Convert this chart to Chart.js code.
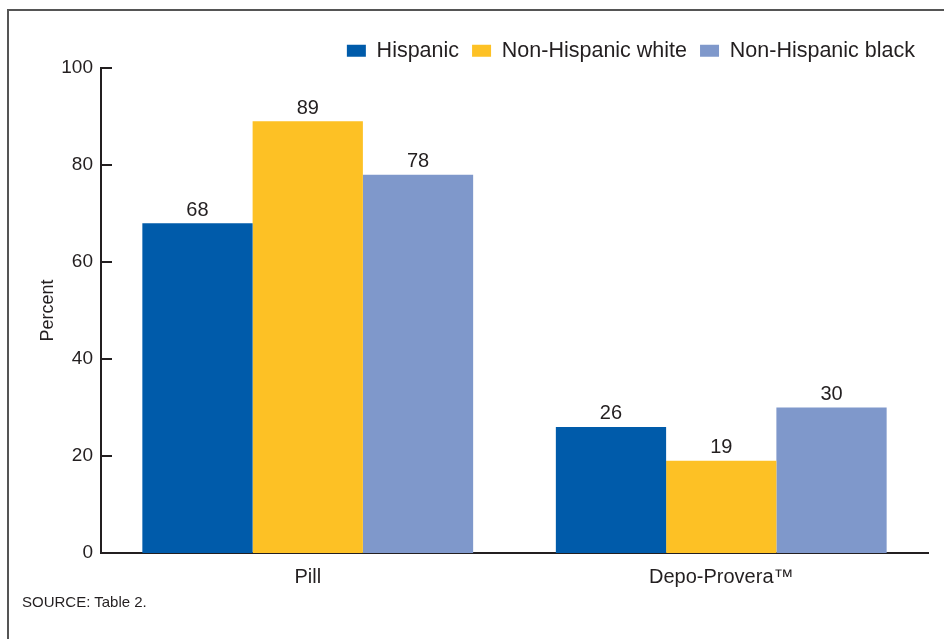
<!DOCTYPE html>
<html>
<head>
<meta charset="utf-8">
<script src="https://cdn.jsdelivr.net/npm/chart.js@4"></script>
<style>
  html, body { margin: 0; padding: 0; background: #fff; }
  #wrap { position: relative; width: 944px; height: 639px; overflow: hidden; }
  #frame { position: absolute; left: 7px; top: 9px; width: 960px; height: 700px;
           border-top: 2px solid #555; border-left: 2px solid #555; }
  #chart { position: absolute; left: 0; top: 0; }
  #source { position: absolute; left: 22px; top: 593px; font: 15px "Liberation Sans", Arial, sans-serif; color: #231f20; }
</style>
</head>
<body>
<div id="wrap">
  <div id="frame"></div>
  <canvas id="chart" width="944" height="639"></canvas>
  <div id="source">SOURCE: Table 2.</div>
</div>
<script>
// Chart data
const categories = ["Pill", "Depo-Provera\u2122"];
const seriesNames = ["Hispanic", "Non-Hispanic white", "Non-Hispanic black"];
const hispanic = [68, 26];
const nhWhite = [89, 19];
const nhBlack = [78, 30];
const yTicks = [0, 20, 40, 60, 80, 100];

const colors = ["#005baa", "#fdc125", "#7f98cb"];
const ink = "#231f20";
const fontFamily = '"Liberation Sans", Arial, sans-serif';

// Value labels above each bar
const valueLabels = {
  id: "valueLabels",
  afterDatasetsDraw(chart) {
    const ctx = chart.ctx;
    ctx.save();
    ctx.font = "20px " + fontFamily;
    ctx.fillStyle = ink;
    ctx.textAlign = "center";
    ctx.textBaseline = "bottom";
    chart.data.datasets.forEach((ds, i) => {
      chart.getDatasetMeta(i).data.forEach((bar, j) => {
        ctx.fillText(ds.data[j], bar.x, bar.y - 3);
      });
    });
    ctx.restore();
  }
};

// Tick marks pointing into the plot area
const innerTicks = {
  id: "innerTicks",
  afterDraw(chart) {
    const y = chart.scales.y;
    const ctx = chart.ctx;
    ctx.save();
    ctx.strokeStyle = ink;
    ctx.lineWidth = 2;
    yTicks.forEach(v => {
      const py = Math.round(y.getPixelForValue(v));
      ctx.beginPath();
      ctx.moveTo(y.right, py);
      ctx.lineTo(y.right + 11, py);
      ctx.stroke();
    });
    ctx.restore();
  }
};

// Fix legend height so the plot starts at the same place as the reference
const legendHeight = {
  id: "legendHeight",
  beforeInit(chart) {
    const fit = chart.legend.fit;
    chart.legend.fit = function () {
      fit.bind(chart.legend)();
      this.height = 41;
    };
  }
};

new Chart(document.getElementById("chart").getContext("2d"), {
  type: "bar",
  data: {
    labels: categories,
    datasets: [
      { label: seriesNames[0], data: hispanic, backgroundColor: colors[0] },
      { label: seriesNames[1], data: nhWhite, backgroundColor: colors[1] },
      { label: seriesNames[2], data: nhBlack, backgroundColor: colors[2] }
    ]
  },
  options: {
    responsive: false,
    animation: false,
    categoryPercentage: 0.8,
    barPercentage: 1.0,
    layout: { padding: { top: 27, right: 16, left: 0, bottom: 0 } },
    plugins: {
      legend: {
        position: "top",
        align: "end",
        labels: {
          boxWidth: 19,
          boxHeight: 12,
          padding: 13,
          color: ink,
          font: { family: fontFamily, size: 21.5 }
        }
      },
      tooltip: { enabled: false }
    },
    scales: {
      x: {
        grid: { display: false, drawTicks: false },
        border: { display: true, color: ink, width: 2 },
        ticks: { color: ink, padding: 12, font: { family: fontFamily, size: 20 } },
        afterFit(scale) { scale.height = 86; }
      },
      y: {
        min: 0,
        max: 100,
        grid: { display: false, drawTicks: false },
        border: { display: true, color: ink, width: 2 },
        ticks: { stepSize: 20, color: ink, padding: 8, font: { family: fontFamily, size: 19 } },
        title: {
          display: true,
          text: "Percent",
          color: ink,
          padding: { top: 37 },
          font: { family: fontFamily, size: 18 }
        },
        afterFit(scale) { scale.width = 101; }
      }
    }
  },
  plugins: [valueLabels, innerTicks, legendHeight]
});
</script>
</body>
</html>
